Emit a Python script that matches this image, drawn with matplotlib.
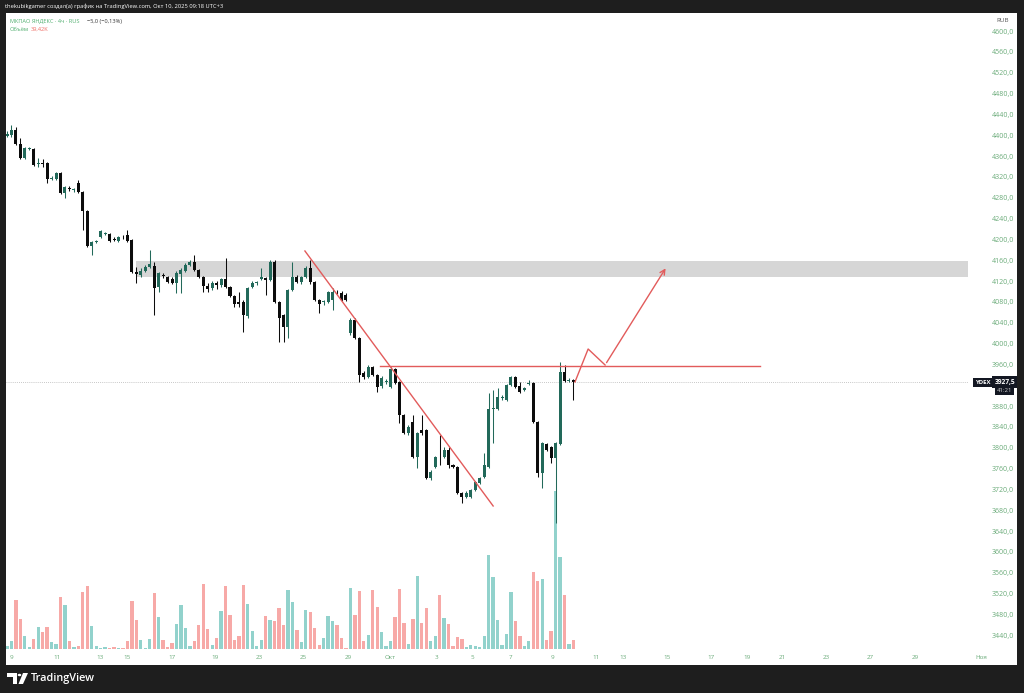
import matplotlib.pyplot as plt
from matplotlib.patches import Rectangle, Polygon, Circle

plt.rcParams['font.family'] = ['Open Sans', 'DejaVu Sans']

# 4h bars, YDEX, Sep 9 - Oct 10 2025
opens = [4401.3, 4402.3, 4411.9, 4385.0, 4358.1, 4375.4, 4375.4, 4346.6, 4348.5, 4348.5,
         4317.8, 4317.8, 4329.3, 4290.9, 4300.5, 4296.7, 4310.1, 4292.9, 4256.4, 4189.2,
         4196.9, 4206.5, 4212.2, 4212.2, 4202.6, 4198.8, 4206.5, 4210.3, 4200.7, 4139.3,
         4133.5, 4141.2, 4148.9, 4150.8, 4110.5, 4133.5, 4129.7, 4125.8, 4118.1, 4135.4,
         4141.2, 4152.7, 4158.5, 4143.1, 4129.7, 4112.4, 4108.5, 4118.1, 4114.3, 4125.8,
         4110.5, 4093.2, 4081.7, 4081.7, 4054.8, 4110.5, 4118.1, 4125.8, 4127.7, 4123.9,
         4158.5, 4081.7, 4056.7, 4033.7, 4104.7, 4129.7, 4120.1, 4129.7, 4146.9, 4120.1,
         4085.5, 4081.7, 4081.7, 4085.5, 4100.9, 4098.9, 4095.1, 4022.1, 4047.1, 4012.5,
         3945.3, 3937.7, 3956.9, 3941.5, 3920.4, 3928.1, 3918.5, 3953.0, 3928.1, 3864.7,
         3830.1, 3851.3, 3784.1, 3835.9, 3835.9, 3743.7, 3764.9, 3784.1, 3784.1, 3797.5,
         3768.7, 3764.9, 3714.9, 3707.3, 3707.3, 3720.7, 3734.1, 3745.7, 3764.9, 3876.2,
         3876.2, 3897.3, 3893.5, 3922.3, 3937.7, 3920.4, 3912.7, 3924.2, 3926.1, 3851.3,
         3753.3, 3809.0, 3803.3, 3782.1, 3809.0, 3947.3, 3930.9, 3932.5]
closes = [4403.3, 4411.9, 4385.0, 4358.1, 4377.3, 4376.4, 4344.7, 4348.5, 4346.6, 4317.8,
          4319.7, 4329.3, 4290.9, 4302.5, 4298.6, 4297.7, 4292.9, 4256.4, 4189.2, 4196.9,
          4197.8, 4218.0, 4213.2, 4198.8, 4200.7, 4206.5, 4205.5, 4198.8, 4139.3, 4135.4,
          4141.2, 4148.9, 4154.6, 4108.5, 4137.3, 4131.6, 4120.1, 4118.1, 4137.3, 4143.1,
          4152.7, 4158.5, 4143.1, 4129.7, 4112.4, 4106.6, 4118.1, 4114.3, 4125.8, 4110.5,
          4093.2, 4077.8, 4077.8, 4056.7, 4108.5, 4118.1, 4119.1, 4129.7, 4123.9, 4158.5,
          4081.7, 4050.9, 4033.7, 4104.7, 4129.7, 4120.1, 4129.7, 4146.9, 4120.1, 4085.5,
          4077.8, 4082.6, 4100.9, 4100.9, 4099.9, 4085.5, 4085.5, 4047.1, 4012.5, 3941.5,
          3937.7, 3956.9, 3941.5, 3918.5, 3935.7, 3930.0, 3953.0, 3926.1, 3864.7, 3830.1,
          3841.7, 3784.1, 3830.1, 3830.1, 3743.7, 3755.3, 3784.1, 3783.1, 3797.5, 3768.7,
          3764.9, 3714.9, 3707.3, 3714.9, 3720.7, 3736.1, 3743.7, 3768.7, 3876.2, 3878.1,
          3899.3, 3898.3, 3922.3, 3937.7, 3918.5, 3908.9, 3916.5, 3926.1, 3851.3, 3753.3,
          3810.9, 3797.5, 3782.1, 3810.9, 3947.3, 3930.9, 3932.5, 3927.5]
highs = [4410.0, 4421.5, 4417.7, 4396.5, 4379.3, 4379.3, 4377.3, 4358.1, 4356.2, 4350.5,
         4323.6, 4331.3, 4331.3, 4304.4, 4304.4, 4300.5, 4315.9, 4294.8, 4258.3, 4198.8,
         4200.7, 4219.9, 4216.1, 4214.1, 4206.5, 4208.4, 4210.3, 4219.9, 4202.6, 4148.9,
         4146.9, 4152.7, 4181.5, 4158.5, 4139.3, 4137.3, 4131.6, 4129.7, 4141.2, 4146.9,
         4156.5, 4162.3, 4171.9, 4145.0, 4131.6, 4118.1, 4122.0, 4122.0, 4127.7, 4166.1,
         4112.4, 4095.1, 4100.9, 4085.5, 4110.5, 4122.0, 4122.0, 4146.9, 4129.7, 4162.3,
         4162.3, 4083.6, 4058.6, 4106.6, 4158.5, 4133.5, 4131.6, 4150.8, 4162.3, 4122.0,
         4087.4, 4085.5, 4102.8, 4108.5, 4104.7, 4102.8, 4098.9, 4050.9, 4050.9, 4014.5,
         3949.2, 3960.7, 3958.8, 3943.4, 3939.6, 3933.8, 3956.9, 3954.9, 3930.0, 3866.6,
         3845.5, 3864.7, 3832.1, 3864.7, 3837.8, 3759.1, 3786.0, 3826.3, 3803.3, 3803.3,
         3770.6, 3766.8, 3716.9, 3718.8, 3722.6, 3738.0, 3745.7, 3791.7, 3906.9, 3912.7,
         3916.5, 3903.1, 3924.2, 3939.6, 3939.6, 3928.1, 3918.5, 3931.9, 3928.1, 3853.2,
         3812.9, 3810.9, 3805.2, 3812.9, 3966.5, 3960.7, 3935.7, 3933.8]
lows = [4398.5, 4398.5, 4383.1, 4356.2, 4356.2, 4373.5, 4342.8, 4340.9, 4340.9, 4310.1,
        4315.9, 4315.9, 4289.0, 4281.3, 4294.8, 4292.9, 4290.9, 4219.9, 4187.3, 4171.9,
        4194.9, 4204.6, 4210.3, 4196.9, 4198.8, 4196.9, 4202.6, 4196.9, 4137.3, 4118.1,
        4129.7, 4139.3, 4146.9, 4056.7, 4100.9, 4127.7, 4118.1, 4116.2, 4098.9, 4098.9,
        4139.3, 4150.8, 4141.2, 4127.7, 4100.9, 4100.9, 4104.7, 4106.6, 4110.5, 4108.5,
        4091.3, 4072.1, 4072.1, 4024.1, 4050.9, 4108.5, 4114.3, 4123.9, 4095.1, 4122.0,
        4079.7, 4004.9, 4004.9, 4012.5, 4102.8, 4118.1, 4116.2, 4127.7, 4116.2, 4083.6,
        4060.5, 4075.9, 4079.7, 4066.3, 4097.0, 4083.6, 4083.6, 4018.3, 4010.6, 3928.1,
        3933.8, 3935.7, 3939.6, 3908.9, 3916.5, 3924.2, 3916.5, 3924.2, 3849.3, 3828.2,
        3826.3, 3782.1, 3762.9, 3826.3, 3741.8, 3739.9, 3762.9, 3768.7, 3782.1, 3762.9,
        3762.9, 3713.0, 3695.7, 3705.3, 3705.3, 3718.8, 3732.2, 3743.7, 3762.9, 3810.9,
        3874.3, 3893.5, 3891.6, 3920.4, 3916.5, 3906.9, 3910.8, 3922.3, 3849.3, 3745.7,
        3724.5, 3795.6, 3772.5, 3657.3, 3807.1, 3928.1, 3928.1, 3893.5]
volume_k = [11.4, 32.6, 206.5, 127.2, 53.8, 8.5, 42.4, 92.0, 70.8, 93.3,
            28.4, 21.2, 219.2, 187.8, 35.2, 7.2, 14.0, 241.7, 268.4, 96.2,
            14.0, 5.5, 8.5, 4.2, 8.5, 6.4, 5.5, 33.9, 204.8, 124.2,
            39.4, 5.5, 42.4, 237.4, 135.7, 39.4, 8.5, 25.4, 106.0, 187.8,
            89.0, 14.0, 32.6, 103.0, 276.9, 84.8, 18.2, 46.6, 159.8, 265.8,
            145.4, 39.4, 53.8, 272.6, 192.1, 77.6, 11.4, 39.4, 138.6, 121.7,
            117.4, 173.8, 103.0, 248.9, 198.0, 81.8, 28.4, 164.1, 155.6, 89.0,
            15.7, 46.6, 138.6, 117.4, 103.0, 46.6, 4.2, 258.6, 145.4, 244.6,
            35.2, 60.6, 251.4, 176.8, 72.1, 14.0, 35.2, 135.7, 254.4, 110.2,
            22.5, 127.2, 310.8, 110.2, 173.8, 35.2, 53.8, 230.2, 132.7, 107.3,
            11.4, 49.6, 42.4, 9.8, 15.7, 14.0, 8.5, 53.8, 399.8, 305.3,
            124.2, 15.7, 64.9, 241.7, 117.4, 53.8, 14.0, 35.2, 326.5, 287.0,
            296.8, 39.4, 75.0, 669.9, 390.1, 230.2, 22.5, 39.42]

price_ticks = [4600, 4560, 4520, 4480, 4440, 4400, 4360, 4320, 4280, 4240, 4200, 4160,
               4120, 4080, 4040, 4000, 3960, 3880, 3840, 3800, 3760, 3720, 3680, 3640,
               3600, 3560, 3520, 3480, 3440]
date_pos = [1.1, 11.2, 20.9, 26.9, 37.0, 46.6, 56.5, 66.4, 76.5, 85.9, 96.4, 104.3, 112.8,
            122.4, 132.0, 138.1, 148.0, 157.8, 165.9, 173.8, 183.6, 193.5, 203.6, 218.4]
date_labels = ['9', '11', '13', '15', '17', '19', '23', '25', '29', 'Окт', '3', '5', '7',
               '9', '11', '13', '15', '17', '19', '21', '23', '27', '29', 'Ноя']

# drawings on the chart
zone_start, zone_low, zone_high = 28.9, 4129.7, 4160.4
trend_x, trend_y = [66.8, 109.0], [4179.6, 3690.0]
level_x, level_y = [83.6, 168.8], 3958.8
path_x = [127.35, 130.3, 134.1, 148.0]
path_y = [3928.1, 3991.4, 3960.7, 4150.8]
last_price = 3927.5

up_col, down_col = '#22695a', '#0c0c0c'
vol_up, vol_down = '#92d2cc', '#f7a9a7'
red = '#e25b5b'
axis_txt = '#6aab79'

fig = plt.figure(figsize=(10.24, 6.93), dpi=100, facecolor='#1e1e1e')
fig.patches.append(Rectangle((6/1024, 28/693), 1011/1024, 652/693, transform=fig.transFigure,
                             fc='white', ec='none', zorder=-5))

rect = [6/1024, 43/693, 962/1024, 637/693]
vax = fig.add_axes(rect)
ax = fig.add_axes(rect)
ax.patch.set_alpha(0)
for a in (ax, vax):
    a.set_xlim(-0.224, 215.47)
    a.axis('off')
ax.set_ylim(3413.5, 4636.5)
vax.set_ylim(-4, 2697)

idx = list(range(len(opens)))
is_up = [c >= o for o, c in zip(opens, closes)]

vax.bar(idx, volume_k, width=0.74, color=[vol_up if u else vol_down for u in is_up], linewidth=0)

colors = [up_col if u else down_col for u in is_up]
ax.vlines(idx, lows, highs, colors=colors, linewidth=0.75, zorder=3)
bottoms = [min(o, c) for o, c in zip(opens, closes)]
heights = [max(abs(c - o), 1.8) for o, c in zip(opens, closes)]
ax.bar(idx, heights, bottom=bottoms, width=0.68, color=colors, linewidth=0, zorder=4)

# zone, trend line, level, projected path
ax.fill_between([zone_start, ax.get_xlim()[1]], zone_low, zone_high, color='#d6d6d6', lw=0, zorder=1)
ax.axhline(last_price, color='#b5b5b5', lw=0.6, ls=(0, (1, 1.5)), zorder=2)
ax.plot(trend_x, trend_y, color=red, lw=1.0, zorder=5)
ax.plot(level_x, [level_y, level_y], color=red, lw=1.0, zorder=5)
ax.plot(path_x[:-1], path_y[:-1], color=red, lw=1.0, zorder=5)
ax.annotate('', xy=(path_x[-1], path_y[-1]), xytext=(path_x[-2], path_y[-2]),
            arrowprops=dict(arrowstyle='->', color=red, lw=1.0, mutation_scale=9), zorder=5)

# price scale
ytr = ax.get_yaxis_transform()
for p in price_ticks:
    ax.text(1.048, p, f'{p},0', transform=ytr, ha='right', va='center',
            fontsize=5, color=axis_txt, clip_on=False)
ax.text(1.007, last_price, 'YDEX', transform=ytr, ha='left', va='center', fontsize=4.3,
        color='white', fontweight='bold', clip_on=False,
        bbox=dict(boxstyle='square,pad=0.35', fc='#131722', ec='none'))
ax.text(1.049, last_price, '3927,5', transform=ytr, ha='right', va='center', fontsize=4.8,
        color='white', fontweight='bold', clip_on=False,
        bbox=dict(boxstyle='square,pad=0.35', fc='#131722', ec='none'))
ax.text(1.046, last_price - 16, '41:21', transform=ytr, ha='right', va='center', fontsize=4.3,
        color='#d0d0d0', clip_on=False,
        bbox=dict(boxstyle='square,pad=0.3', fc='#131722', ec='none'))
fig.text(1003/1024, 1 - 21/693, 'RUB', ha='center', va='center', fontsize=4.5, color='#555555')

# time scale
xtr = ax.get_xaxis_transform()
for pos, lab in zip(date_pos, date_labels):
    ax.text(pos, -0.011, lab, transform=xtr, ha='center', va='center', fontsize=4.5,
            color=axis_txt, clip_on=False)

# header and legend
fig.text(5/1024, 1 - 6/693, 'thekubikgamer создал(а) график на TradingView.com, Окт 10, 2025 09:18 UTC+3',
         ha='left', va='center', fontsize=4.15, color='white')
fig.text(10/1024, 1 - 21/693, 'МКПАО ЯНДЕКС · 4ч · RUS', ha='left', va='center', fontsize=4.1, color='#4fae6e')
fig.text(87/1024, 1 - 21/693, '−5,0 (−0,13%)', ha='left', va='center', fontsize=4.1, color='#333333')
fig.text(10/1024, 1 - 29.5/693, 'Объём', ha='left', va='center', fontsize=4.1, color='#4fae6e')
fig.text(31/1024, 1 - 29.5/693, '39,42K', ha='left', va='center', fontsize=4.1, color='#ef6b63')

# TradingView logo
def px(x, y):
    return (x / 1024, 1 - y / 693)

fig.patches.append(Polygon([px(7, 673), px(17, 673), px(17, 684), px(12.5, 684), px(12.5, 677), px(7, 677)],
                           closed=True, transform=fig.transFigure, fc='white', ec='none'))
fig.patches.append(Circle(px(19.5, 675), 1.8 / 1024, transform=fig.transFigure, fc='white', ec='none'))
fig.patches.append(Polygon([px(23, 673), px(28, 673), px(23, 684), px(18.5, 684)],
                           closed=True, transform=fig.transFigure, fc='white', ec='none'))
fig.text(31/1024, 1 - 678/693, 'TradingView', ha='left', va='center', fontsize=7.8,
         color='white', fontweight='semibold')

fig.savefig('out.png', dpi=100, facecolor=fig.get_facecolor())
